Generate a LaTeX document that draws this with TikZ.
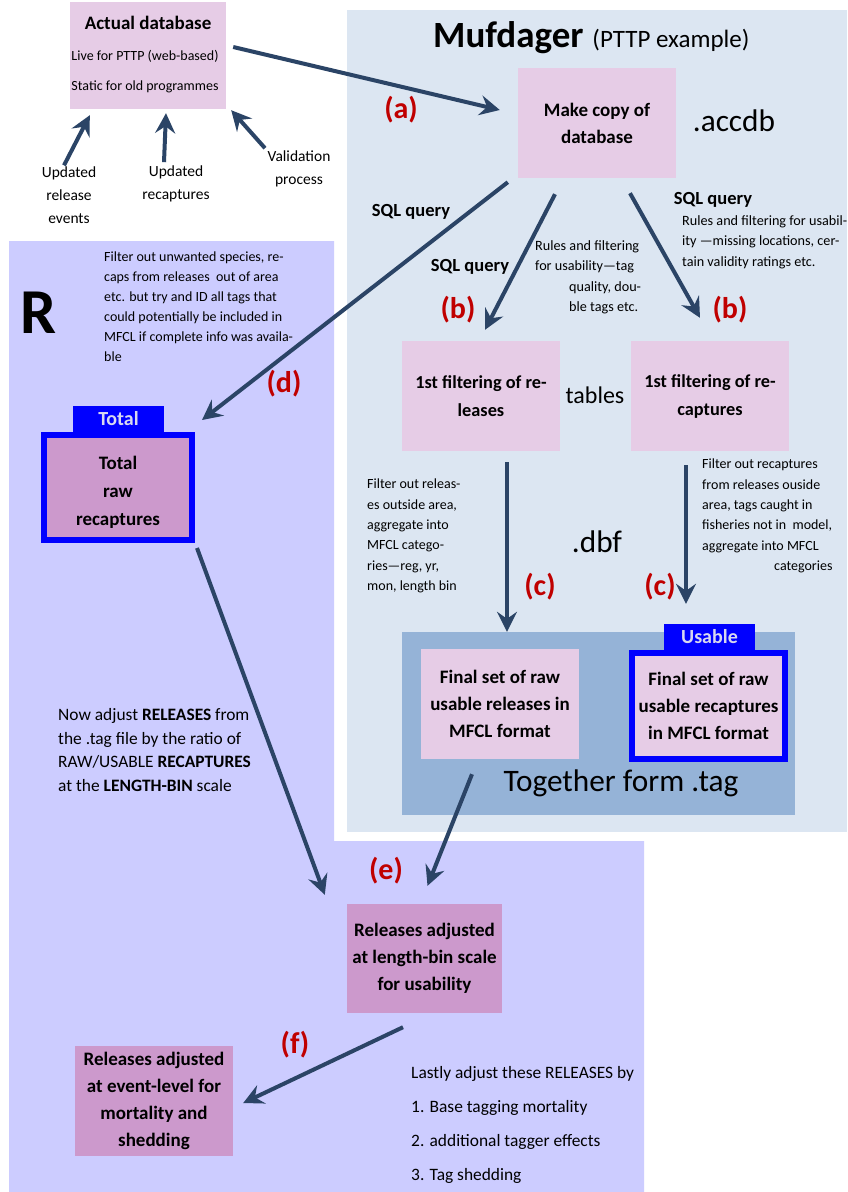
\documentclass[tikz,border=0pt]{standalone}
\usepackage{fontspec}
\setmainfont{Carlito}
\usetikzlibrary{arrows.meta,calc}
\definecolor{mufbg}{HTML}{DCE6F2}
\definecolor{rbg}{HTML}{CCCCFF}
\definecolor{pinkL}{HTML}{E6CCE6}
\definecolor{pinkD}{HTML}{CC99CC}
\definecolor{tagbg}{HTML}{95B3D7}
\definecolor{frameblue}{HTML}{0000FF}
\definecolor{tabtext}{HTML}{D8D8F0}
\definecolor{arrowc}{HTML}{2B4466}
\definecolor{labred}{HTML}{C00000}
\newcommand\myfs[2]{\fontsize{#1}{#2}\selectfont}
\begin{document}
\begin{tikzpicture}[x=1pt,y=-1pt,
  box/.style={inner sep=0pt, align=center},
  boxlabel/.style={font=\myfs{19}{27}\bfseries},
  txt/.style={inner sep=0pt, align=center},
  ltxt/.style={inner sep=0pt, align=left, anchor=west},
  small/.style={font=\myfs{14}{20.4}},
  rules/.style={font=\myfs{14.2}{20.5}},
  sql/.style={inner sep=0pt, font=\myfs{18.5}{20}\bfseries},
  lab/.style={inner sep=0pt, text=labred, font=\myfs{30}{30}\bfseries},
  big/.style={inner sep=0pt, font=\myfs{31.3}{31}},
  tab/.style={inner sep=0pt, fill=frameblue, text=tabtext, minimum width=91pt, minimum height=26pt, font=\myfs{20}{20}\bfseries},
  frame/.style={draw=frameblue, line width=6pt},
  arr/.style={draw=arrowc, line width=4pt, -{Stealth[length=20pt,width=20pt,inset=7pt]}},
]
\useasboundingbox (0,0) rectangle (847,1192);
\fill[white] (0,0) rectangle (847,1192);
\fill[mufbg] (347,10) rectangle (847,832);
\fill[rbg] (9,241) -- (334,241) -- (334,841) -- (644,841) -- (644,1192) -- (9,1192) -- cycle;

% Actual database
\node[box, fill=pinkL, minimum width=156pt, minimum height=107pt] (db) at (148,55.5) {};
\node[txt, font=\myfs{19}{20}\bfseries] (dbtitle) at (148,23) {Actual database};
\node[txt, font=\myfs{14}{30}] (dblines) at (145,72) {Live for PTTP (web-based)\\Static for old programmes};
\node[txt, font=\myfs{15.5}{23}] (upd1) at (69,195) {Updated\\release\\events};
\node[txt, font=\myfs{15.5}{23}] (upd2) at (176,183.5) {Updated\\recaptures};
\node[txt, font=\myfs{15.5}{23}] (valid) at (299,168.5) {Validation\\process};

% Mufdager
\node[inner sep=0pt, anchor=base west] (muf) at (433,47) {{\myfs{37}{40}\bfseries Mufdager}\hspace{9pt}{\myfs{25}{30}(PTTP example)}};
\node[box, boxlabel, fill=pinkL, minimum width=158pt, minimum height=110pt] (copy) at (597,123) {Make copy of\\database};
\node[big] (accdb) at (734,121) {.accdb};
\node[lab] (la) at (401,110) {(a)};

\node[sql] (sql1) at (411,212) {SQL query};
\node[sql] (sql2) at (470,267) {SQL query};
\node[sql] (sql3) at (713,200) {SQL query};
\node[ltxt, rules] (rulesR) at (682,242) {Rules and filtering for usabil-\\ity —missing locations, cer-\\tain validity ratings etc.};
\node[ltxt, rules] (rulesM) at (535,277.5) {Rules and filtering\\for usability—tag\\\hspace*{34pt}quality, dou-\\\hspace*{34pt}ble tags etc.};
\node[lab] (lb1) at (458,310) {(b)};
\node[lab] (lb2) at (730,310) {(b)};

\node[box, fill=pinkL, minimum width=158pt, minimum height=110pt, font=\myfs{18.3}{28}\bfseries] (rel1) at (481,396) {1st filtering of re-\\leases};
\node[box, fill=pinkL, minimum width=158pt, minimum height=110pt, font=\myfs{18.3}{28}\bfseries] (rec1) at (710,396) {1st filtering of re-\\captures};
\node[big, font=\myfs{24}{24}] (tables) at (595,395) {tables};

\node[ltxt, small] (filtrel) at (367,536) {Filter out releas-\\es outside area,\\aggregate into\\MFCL catego-\\ries—reg, yr,\\mon, length bin};
\node[ltxt, small] (filtrec) at (702,516) {Filter out recaptures\\from releases ouside\\area, tags caught in\\fisheries not in\ \ model,\\aggregate into MFCL\\\hspace*{72pt}categories};
\node[big] (dbf) at (597,542) {.dbf};
\node[lab] (lc1) at (540,587) {(c)};
\node[lab] (lc2) at (660,587) {(c)};

% Together form .tag
\node[box, fill=tagbg, minimum width=393pt, minimum height=183pt] (tagbox) at (598.5,723.5) {};
\node[box, boxlabel, fill=pinkL, minimum width=158pt, minimum height=110pt] (relF) at (500,704) {Final set of raw\\usable releases in\\MFCL format};
\node[tab] (usable) at (709.5,637) {Usable};
\node[box, boxlabel, fill=pinkL, frame, minimum width=153pt, minimum height=106pt] (recF) at (708.5,706) {Final set of raw\\usable recaptures\\in MFCL format};
\node[big] (together) at (621,783) {Together form .tag};

% R part
\node[inner sep=0pt, font=\myfs{64}{64}\bfseries] (R) at (39,313) {R};
\node[ltxt, small, font=\myfs{14}{20}] (filtR) at (104,307) {Filter out unwanted species, re-\\caps from releases\ \ out of area\\etc. but try and ID all tags that\\could potentially be included in\\MFCL if complete info was availa-\\ble};
\node[lab] (ld) at (284,384) {(d)};
\node[tab] (totaltab) at (118.5,419) {Total};
\node[box, fill=pinkD, frame, minimum width=148pt, minimum height=105pt] (total) at (118,487.5) {};
\node[txt, font=\myfs{19}{28}\bfseries] (totaltext) at (118,492.5) {Total\\raw\\recaptures};

\node[ltxt, font=\myfs{17.4}{23.5}] (nowadj) at (58,750) {Now adjust \textbf{RELEASES} from\\the .tag file by the ratio of\\RAW/USABLE \textbf{RECAPTURES}\\at the \textbf{LENGTH-BIN} scale};

\node[lab] (le) at (386,871) {(e)};
\node[box, boxlabel, fill=pinkD, minimum width=155pt, minimum height=109pt] (adj1) at (424.5,958.5) {Releases adjusted\\at length-bin scale\\for usability};
\node[lab] (lf) at (295,1045) {(f)};
\node[box, boxlabel, fill=pinkD, minimum width=158pt, minimum height=110pt] (adj2) at (154,1101) {Releases adjusted\\at event-level for\\mortality and\\shedding};
\node[ltxt, font=\myfs{17.4}{34}] (lastly) at (411,1125) {Lastly adjust these RELEASES by\\1. Base tagging mortality\\2. additional tagger effects\\3. Tag shedding};

% Connectors
\draw[arr] ($(db.east)+(7,-8.5)$) -- ($(copy.west)+(-18,-13)$);
\draw[arr] ($(upd1.north)+(-5,-1)$) -- ($(db.south west)+(20,6)$);
\draw[arr] ($(upd2.north)+(-12,-3)$) -- ($(db.south)+(18,4)$);
\draw[arr] ($(valid.north)+(-34,-2)$) -- ($(db.south east)+(5,1)$);
\draw[arr] ($(copy.south west)+(-10,4)$) -- ($(total.north east)+(7,-12)$);
\draw[arr] ($(copy.south)+(-42,16)$) -- ($(rel1.north)+(4,-11)$);
\draw[arr] ($(copy.south)+(33,15)$) -- ($(rec1.north)+(-10,-23)$);
\draw[arr] ($(rel1.south)+(26,11)$) -- ($(tagbox.north)+(-91.5,0)$);
\draw[arr] ($(rec1.south)+(-24,14)$) -- ($(usable.north)+(-23.5,-20)$);
\draw[arr] ($(total.south east)+(2,5)$) -- ($(adj1.north west)+(-22,-9)$);
\draw[arr] ($(relF.south)+(-28,15)$) -- ($(adj1.north)+(3,-18)$);
\draw[arr] ($(adj1.south)+(-21.5,14)$) -- ($(adj2.east)+(10,2)$);
\end{tikzpicture}
\end{document}
